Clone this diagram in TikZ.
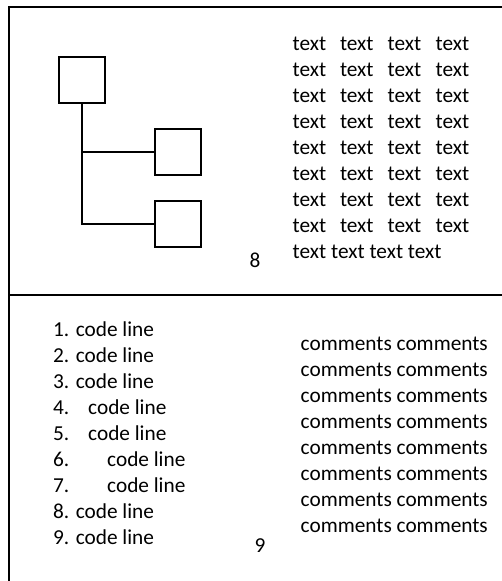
\documentclass[tikz,border=0pt]{standalone}
\usepackage{fontspec}
\setmainfont{Carlito}
\begin{document}
\begin{tikzpicture}[x=1pt,y=-1pt,
  frame/.style={line width=2pt},
  blk/.style={draw,line width=2pt,minimum width=46pt,minimum height=46pt,inner sep=0pt,anchor=north west},
  wire/.style={line width=1.6pt},
  txt/.style={anchor=base west,inner sep=0pt,font=\fontsize{21.3}{26}\selectfont},
  num/.style={anchor=base west,inner sep=0pt,font=\fontsize{21.3}{26}\selectfont}]
\useasboundingbox (0,0) rectangle (502,581);

% page frame: top rule, left rule and the rule between the two panels
\coordinate (tl) at (8.7,7);
\coordinate (tr) at (503,7);
\coordinate (bl) at (8.7,582);
\coordinate (ml) at (8.7,295);
\coordinate (mr) at (503,295);
\draw[frame] (tr) -- (tl) -- (bl);
\draw[frame] (ml) -- (mr);

% tree of boxes
\node[blk] (root) at (58,56) {};
\node[blk] (kidA) at (154,128) {};
\node[blk] (kidB) at (154,200) {};
\coordinate (j1) at (root.south |- kidA.west);
\coordinate (j2) at (root.south |- kidB.west);
\draw[wire] (root.south) -- (j2) -- (kidB.west);
\draw[wire] (j1) -- (kidA.west);

% page numbers
\node[num] (p8) at (249.5,267) {8};
\node[num] (p9) at (254.5,552) {9};

% text block
\foreach \r in {0,...,7}{
  \foreach \c/\xx in {0/292.5,1/339.8,2/387.5,3/435.5}{
    \node[txt] (t\r\c) at (\xx,50+26*\r) {text};
  }
}
\node[txt] (t8) at (292.5,258) {text text text text};

% code listing
\node[txt] (c1) at (53,336) {1. code line};
\node[txt] (c2) at (53,362) {2. code line};
\node[txt] (c3) at (53,388) {3. code line};
\node[txt] (c4) at (53,414) {\makebox[35pt][l]{4.}code line};
\node[txt] (c5) at (53,440) {\makebox[35pt][l]{5.}code line};
\node[txt] (c6) at (53,466) {\makebox[54pt][l]{6.}code line};
\node[txt] (c7) at (53,492) {\makebox[54pt][l]{7.}code line};
\node[txt] (c8) at (53,518) {8. code line};
\node[txt] (c9) at (53,544) {9. code line};

% comments
\foreach \r in {0,...,7}{
  \node[txt] (m\r) at (300.5,350+26*\r) {comments comments};
}
\end{tikzpicture}
\end{document}
